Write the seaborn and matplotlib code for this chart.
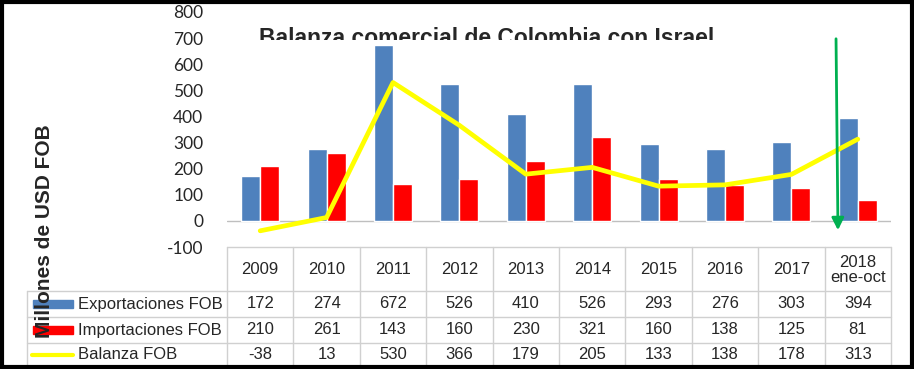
import numpy as np
import pandas as pd
import seaborn as sns
import matplotlib.pyplot as plt
from matplotlib.patches import Rectangle
from matplotlib.transforms import Bbox, TransformedBbox

sns.set_style("white")
plt.rcParams['font.family'] = ['Liberation Sans', 'DejaVu Sans']

# datos (millones de USD FOB)
years = ['2009', '2010', '2011', '2012', '2013', '2014', '2015', '2016', '2017', '2018\nene-oct']
exportaciones = [172, 274, 672, 526, 410, 526, 293, 276, 303, 394]
importaciones = [210, 261, 143, 160, 230, 321, 160, 138, 125, 81]
balanza = [-38, 13, 530, 366, 179, 205, 133, 138, 178, 313]
series = ['Exportaciones FOB', 'Importaciones FOB', 'Balanza FOB']
colores = {'Exportaciones FOB': '#4F81BD', 'Importaciones FOB': '#FF0000', 'Balanza FOB': '#FFFF00'}

W, H = 914, 369
L, R, TOP, BOT = 227, 891, 12, 247   # area del grafico en pixeles

df = pd.DataFrame({'anio': years * 2,
                   'serie': [series[0]] * len(years) + [series[1]] * len(years),
                   'valor': exportaciones + importaciones})

fig = plt.figure(figsize=(W / 100, H / 100), dpi=100)
ax = fig.add_axes([L / W, (H - BOT) / H, (R - L) / W, (BOT - TOP) / H])

sns.barplot(data=df, x='anio', y='valor', hue='serie', order=years, hue_order=series[:2],
            palette=colores, saturation=1, width=0.57, legend=False, ax=ax, zorder=2)
sns.lineplot(x=np.arange(len(years)), y=balanza, color=colores['Balanza FOB'], lw=3.4, ax=ax, zorder=3)

ax.axhline(0, color='#bfbfbf', lw=1, zorder=1)
ax.set_xlim(-0.5, len(years) - 0.5)
ax.set_ylim(-100, 800)
ax.set_yticks(range(-100, 801, 100))
ax.set_yticklabels([str(v) for v in range(-100, 801, 100)], fontfamily='Lato', fontsize=12.5)
ax.tick_params(axis='y', length=0, pad=17)
ax.set_xticks([])
ax.set_xlabel('')
ax.set_ylabel('')
for s in ax.spines.values():
    s.set_visible(False)
ax.patch.set_alpha(0)

# capa en pixeles para tabla, titulo, flecha y borde
ov = fig.add_axes([0, 0, 1, 1], zorder=5)
ov.set_xlim(0, W)
ov.set_ylim(H, 0)
ov.axis('off')

col_w = (R - L) / len(years)
grid = '#d0d0d0'
rows_y = [291, 317, 343, 366]
ov.plot([L, R], [BOT, BOT], color=grid, lw=1)
for y in rows_y[:-1]:
    ov.plot([27, R], [y, y], color=grid, lw=1)
ov.plot([27, 27], [291, 366], color=grid, lw=1)
for i in range(len(years) + 1):
    ov.plot([L + i * col_w] * 2, [BOT, 366], color=grid, lw=1)

for i, yr in enumerate(years):
    cx = L + (i + 0.5) * col_w
    ov.text(cx, 270, yr, ha='center', va='center', fontsize=12, linespacing=1.0)
    for j, vals in enumerate([exportaciones, importaciones, balanza]):
        cy = (rows_y[j] + rows_y[j + 1]) / 2
        ov.text(cx, cy, str(vals[i]), ha='center', va='center', fontsize=12)

for j, nombre in enumerate(series):
    cy = (rows_y[j] + rows_y[j + 1]) / 2
    if j < 2:
        ov.add_patch(Rectangle((33, cy - 4), 40, 8, color=colores[nombre], zorder=4))
    else:
        ov.plot([32, 73], [cy, cy], color=colores[nombre], lw=3, zorder=4)
    ov.text(78, cy, nombre, ha='left', va='center', fontsize=12)

ov.text(45, 231, 'Millones de USD FOB', rotation=90, ha='center', va='center',
        fontsize=15, fontweight='bold', zorder=6)

# titulo recortado como en el original
t = ov.text(487, 45, 'Balanza comercial de Colombia con Israel', ha='center', va='baseline',
            fontsize=16.5, fontweight='bold')
t.set_clip_on(True)
t.set_clip_box(TransformedBbox(Bbox([[0, 0], [W, 40]]), ov.transData))

ov.annotate('', xy=(838, 233), xytext=(836, 36),
            arrowprops=dict(arrowstyle='-|>', color='#00B050', lw=2, mutation_scale=18))

ov.add_patch(Rectangle((2, 2), W - 4, H - 4, fill=False, edgecolor='black', lw=3, zorder=7))

fig.savefig('out.png', dpi=100)
